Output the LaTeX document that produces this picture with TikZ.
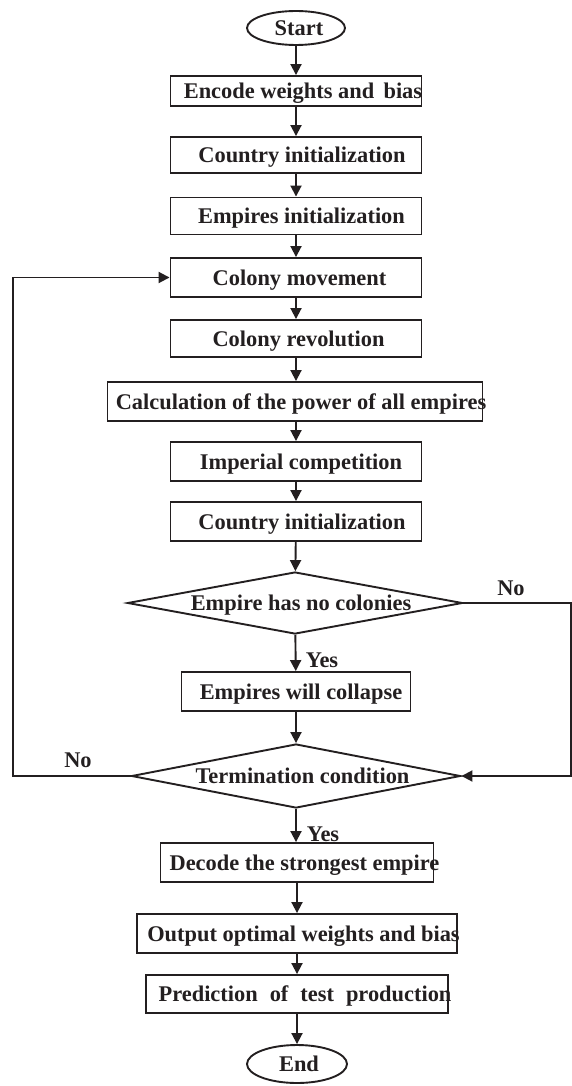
\documentclass[tikz,border=0pt]{standalone}
\usepackage{fontspec}
\setmainfont{Liberation Serif}
\usetikzlibrary{arrows.meta,shapes.geometric}
\definecolor{ink}{RGB}{35,31,32}
\tikzset{
 box/.style={draw=ink, line width=1.9pt, rectangle, inner sep=0pt},
 lbl/.style={inner sep=0pt, text height=15pt, text depth=0pt, font=\fontsize{22.4}{24}\selectfont\bfseries, text=ink},
 oval/.style={draw=ink, line width=1.9pt, ellipse, inner sep=0pt},
 dia/.style={draw=ink, line width=1.9pt, diamond, inner sep=0pt},
 arr/.style={draw=ink, line width=1.9pt, -{Triangle[length=11pt,width=11pt]}},
 ln/.style={draw=ink, line width=1.9pt}
}
\begin{document}
\begin{tikzpicture}[x=1pt,y=-1pt]
\useasboundingbox (0,0) rectangle (572,1086);
% nodes
\node[oval, minimum width=98pt, minimum height=34pt] (start) at (296,28) {};
\node[lbl] (tstart) at (299,28) {Start};
\node[box, minimum width=251pt, minimum height=30pt] (b1) at (296,91) {};
\node[lbl] (t1) at (303,91) {Encode weights and\, bias};
\node[box, minimum width=251pt, minimum height=36pt] (b2) at (296,155) {};
\node[lbl] (t2) at (302,155) {Country initialization};
\node[box, minimum width=251pt, minimum height=37pt] (b3) at (296,216) {};
\node[lbl] (t3) at (301.5,216) {Empires initialization};
\node[box, minimum width=251pt, minimum height=39pt] (b4) at (296,277.5) {};
\node[lbl] (t4) at (299.5,277.5) {Colony movement};
\node[box, minimum width=251pt, minimum height=37pt] (b5) at (296,338.5) {};
\node[lbl] (t5) at (298.5,338.5) {Colony revolution};
\node[box, minimum width=375pt, minimum height=39pt] (b6) at (295,401.5) {};
\node[lbl] (t6) at (301,401.5) {Calculation of the power of all empires};
\node[box, minimum width=251pt, minimum height=39pt] (b7) at (296,461.5) {};
\node[lbl] (t7) at (301,461.5) {Imperial competition};
\node[box, minimum width=251pt, minimum height=39pt] (b8) at (296,521.5) {};
\node[lbl] (t8) at (302,521.5) {Country initialization};
\node[dia, minimum width=335pt, minimum height=62pt] (d1) at (295,603) {};
\node[lbl] (td1) at (301,603) {Empire has no colonies};
\node[box, minimum width=229pt, minimum height=39pt] (b9) at (296,691.5) {};
\node[lbl] (t9) at (301,691.5) {Empires will collapse};
\node[dia, minimum width=329pt, minimum height=64pt] (d2) at (296,776) {};
\node[lbl] (td2) at (302.5,776) {Termination condition};
\node[box, minimum width=273pt, minimum height=39pt] (b10) at (297,862.5) {};
\node[lbl] (t10) at (304.5,862.5) {Decode the strongest empire};
\node[box, minimum width=320pt, minimum height=39pt] (b11) at (297,933.5) {};
\node[lbl] (t11) at (303.5,933.5) {Output optimal weights and bias};
\node[box, minimum width=302pt, minimum height=38pt] (b12) at (297,994) {};
\node[lbl] (t12) at (305,994) {Prediction\hspace{12pt}of\hspace{12pt}test\hspace{12pt}production};
\node[oval, minimum width=100pt, minimum height=38pt] (end) at (297,1064) {};
\node[lbl] (tend) at (299,1064) {End};
% labels
\node[lbl] (no1) at (511,588) {No};
\node[lbl] (no2) at (78,760) {No};
\node[lbl] (yes1) at (322,660) {Yes};
\node[lbl] (yes2) at (323,834) {Yes};
% connectors
\draw[arr] (start.south) -- (start.south |- b1.north);
\draw[arr] (b1) -- (b2);
\draw[arr] (b2) -- (b3);
\draw[arr] (b3) -- (b4);
\draw[arr] (b4) -- (b5);
\draw[arr] (b5) -- (b6.north -| b5.south);
\draw[arr] (b6.south -| b7.north) -- (b7);
\draw[arr] (b7) -- (b8);
\draw[arr] (b8) -- (d1);
\draw[arr] (d1) -- (b9);
\draw[arr] (b9) -- (d2);
\draw[arr] (d2.south) -- (d2.south |- b10.north);
\draw[arr] (b10) -- (b11);
\draw[arr] (b11) -- (b12);
\draw[arr] (b12) -- (end);
\coordinate (r1) at (571,603);
\coordinate (r2) at (571,776);
\coordinate (l1) at (13,776);
\coordinate (l2) at (13,277.5);
\draw[arr] (d1.east) -- (r1) -- (r2) -- (d2.east);
\draw[arr] (d2.west) -- (l1) -- (l2) -- (b4.west);
\end{tikzpicture}
\end{document}
